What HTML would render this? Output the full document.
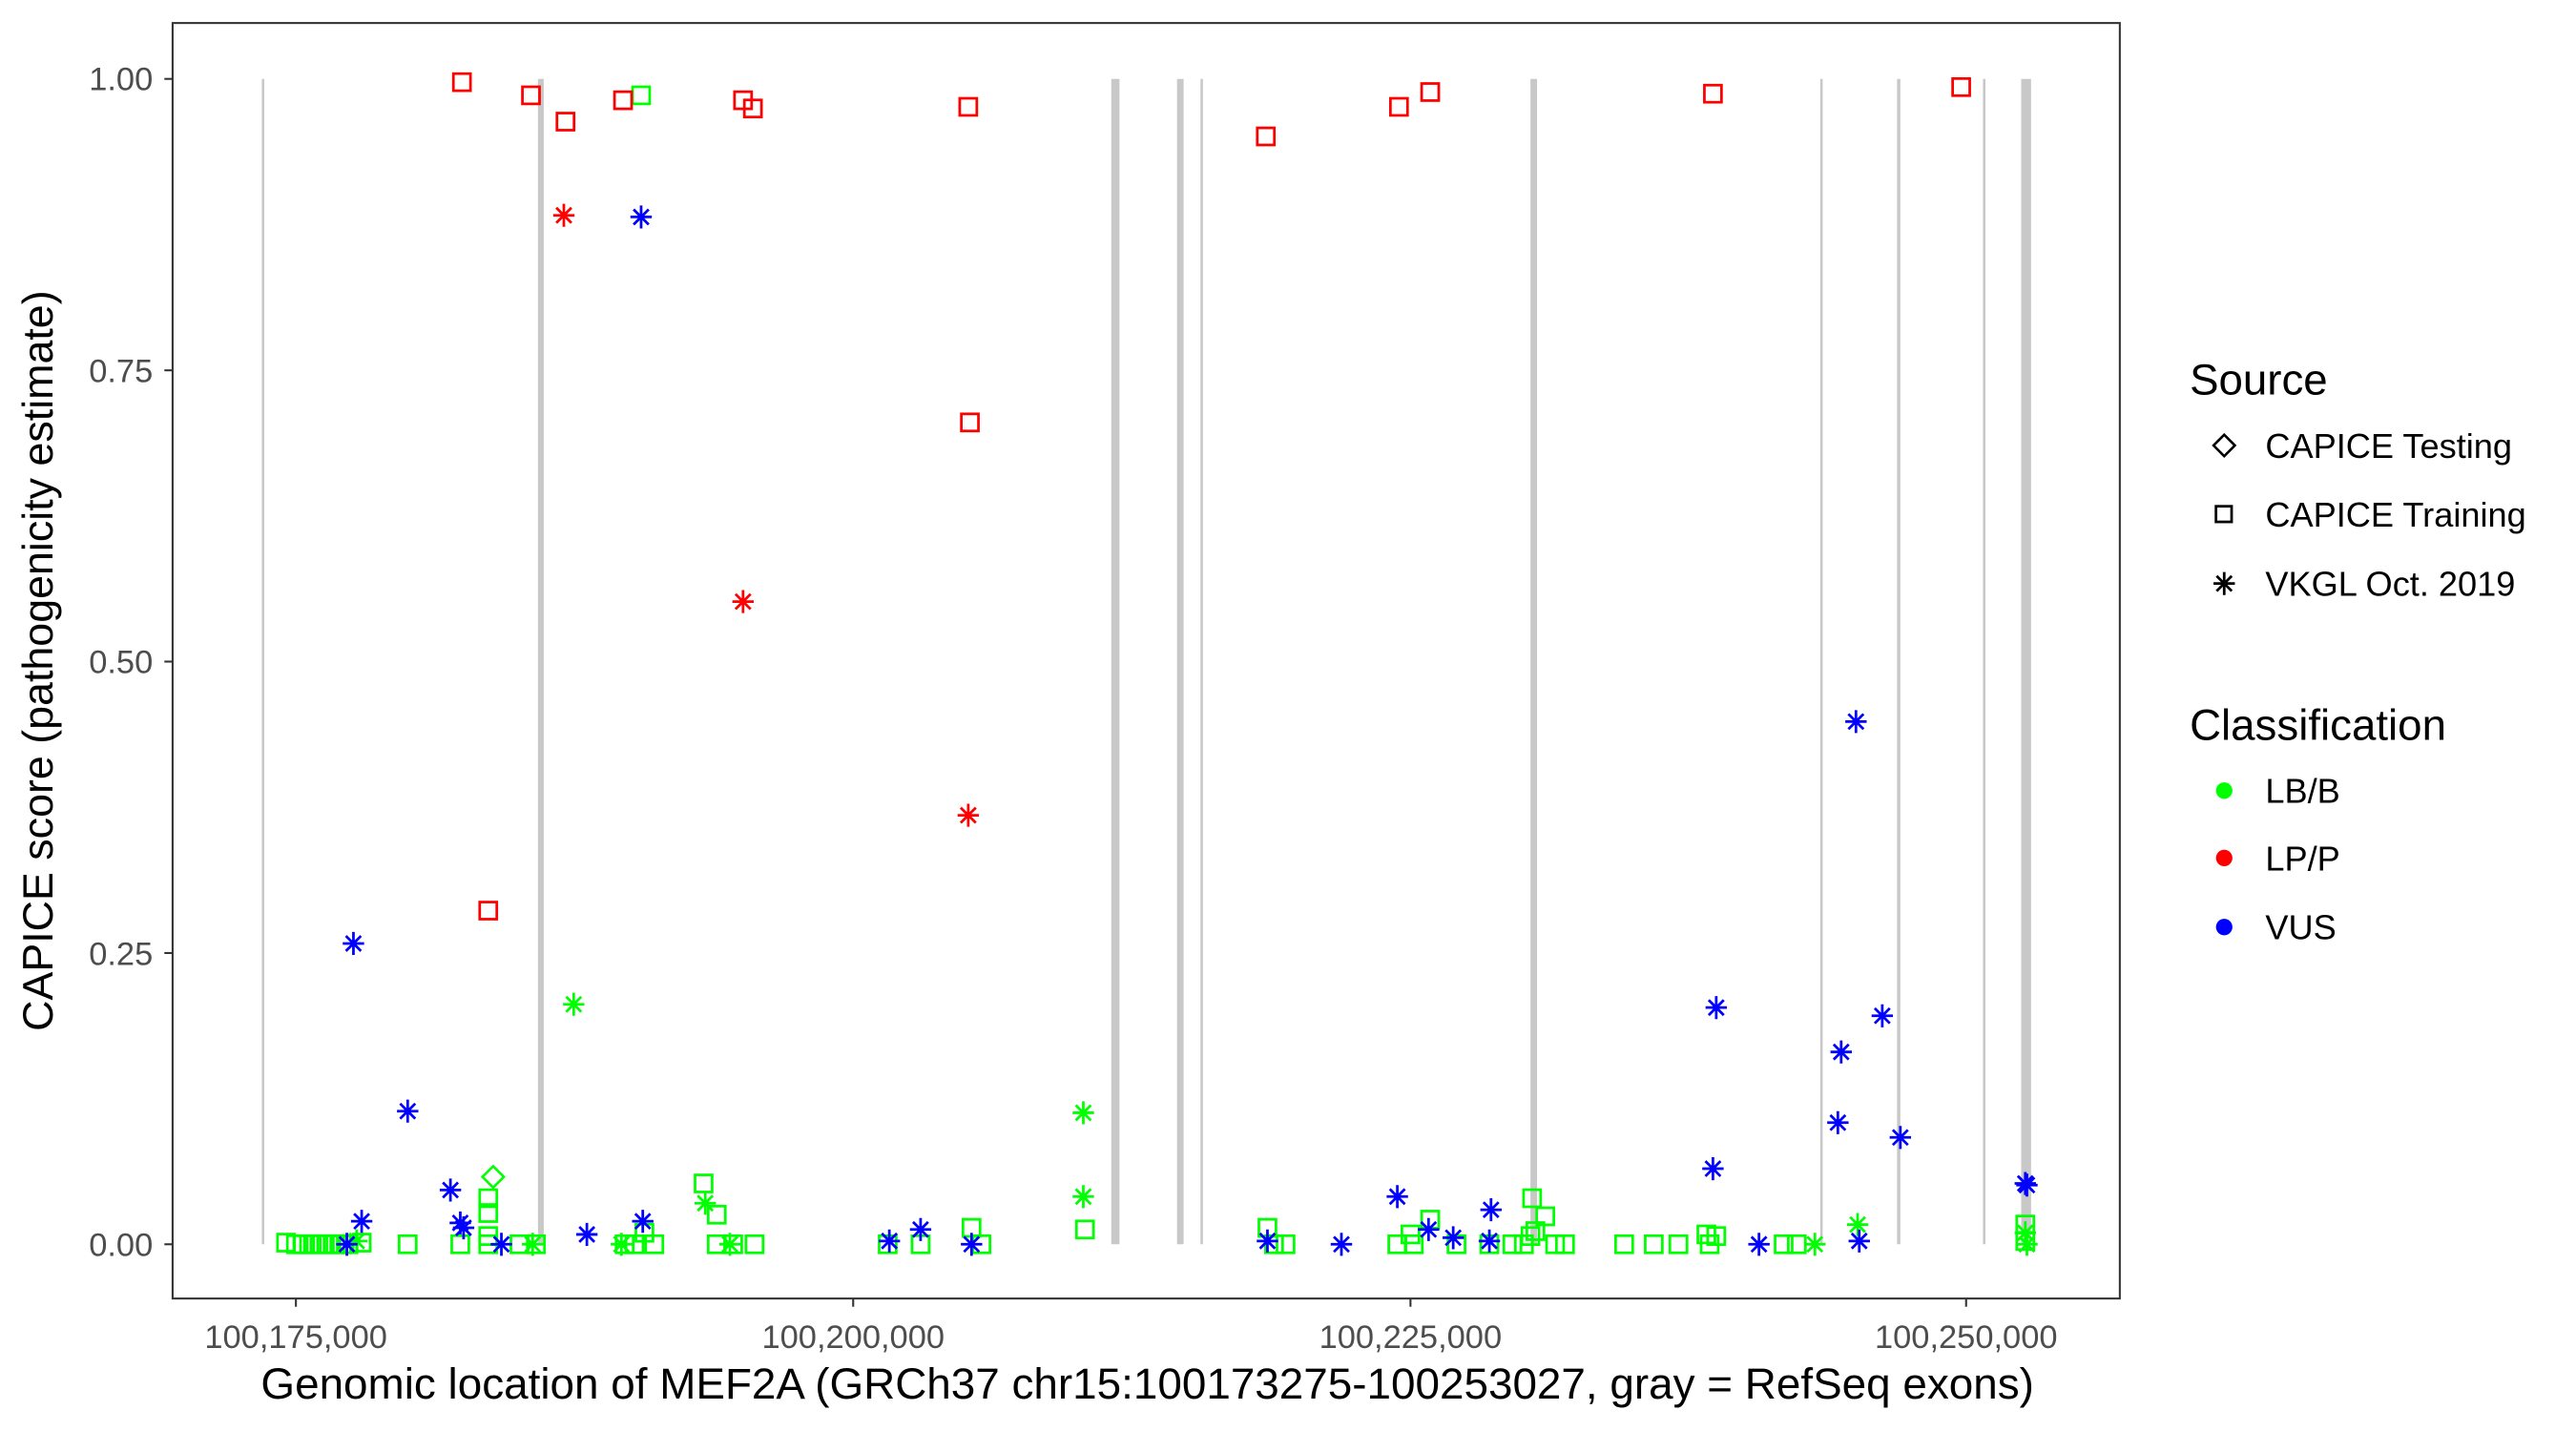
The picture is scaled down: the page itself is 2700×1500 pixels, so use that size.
<!DOCTYPE html>
<html><head><meta charset="utf-8"><style>html,body{margin:0;padding:0;background:#fff}svg{display:block}</style></head>
<body>
<svg width="2700" height="1500" viewBox="0 0 1567 870.6" preserveAspectRatio="none" xmlns="http://www.w3.org/2000/svg" font-family="Liberation Sans, sans-serif">
<defs>
<rect id="sq" x="-5.2" y="-5.2" width="10.4" height="10.4" fill="none" stroke-width="1.6"/>
<path id="as" d="M0,-7V7M-6.5,0H6.5M-4.6,-4.6L4.6,4.6M-4.6,4.6L4.6,-4.6" fill="none" stroke-width="1.6"/>
<path id="di" d="M0,-6.5L6.5,0L0,6.5L-6.5,0Z" fill="none" stroke-width="1.5"/>
</defs>
<rect x="0" y="0" width="1567" height="870.6" fill="#fff"/>
<g stroke="#c8c8c8">
<line x1="160" y1="48" x2="160" y2="757" stroke-width="1.5"/>
<line x1="329" y1="48" x2="329" y2="757" stroke-width="3.5"/>
<line x1="678.5" y1="48" x2="678.5" y2="757" stroke-width="5"/>
<line x1="718" y1="48" x2="718" y2="757" stroke-width="4"/>
<line x1="731" y1="48" x2="731" y2="757" stroke-width="1.5"/>
<line x1="933" y1="48" x2="933" y2="757" stroke-width="4"/>
<line x1="1108" y1="48" x2="1108" y2="757" stroke-width="1.5"/>
<line x1="1155" y1="48" x2="1155" y2="757" stroke-width="2"/>
<line x1="1207" y1="48" x2="1207" y2="757" stroke-width="1.5"/>
<line x1="1232.5" y1="48" x2="1232.5" y2="757" stroke-width="6"/>
</g>
<g stroke="#00ff00">
<use href="#sq" x="174" y="756"/><use href="#sq" x="180" y="757"/><use href="#sq" x="184" y="757"/><use href="#sq" x="188" y="757"/><use href="#sq" x="192" y="757"/><use href="#sq" x="196" y="757"/><use href="#sq" x="200" y="757"/><use href="#sq" x="204" y="757"/><use href="#sq" x="208" y="757"/><use href="#sq" x="212" y="757"/><use href="#sq" x="220" y="756"/><use href="#sq" x="248" y="757"/><use href="#sq" x="280" y="757"/><use href="#sq" x="297" y="729"/><use href="#sq" x="297" y="738"/><use href="#sq" x="297" y="752"/><use href="#sq" x="297" y="757"/><use href="#sq" x="316" y="757"/><use href="#sq" x="326" y="757"/><use href="#sq" x="380" y="757"/><use href="#sq" x="386" y="757"/><use href="#sq" x="392" y="750"/><use href="#sq" x="398" y="757"/><use href="#sq" x="428" y="720"/><use href="#sq" x="436" y="739"/><use href="#sq" x="436" y="757"/><use href="#sq" x="446" y="757"/><use href="#sq" x="459" y="757"/><use href="#sq" x="540" y="757"/><use href="#sq" x="560" y="757"/><use href="#sq" x="591" y="747"/><use href="#sq" x="597" y="757"/><use href="#sq" x="660" y="748"/><use href="#sq" x="771" y="747"/><use href="#sq" x="775" y="757"/><use href="#sq" x="782" y="757"/><use href="#sq" x="850" y="757"/><use href="#sq" x="858" y="751"/><use href="#sq" x="860" y="757"/><use href="#sq" x="870" y="742"/><use href="#sq" x="886" y="757"/><use href="#sq" x="906" y="757"/><use href="#sq" x="920" y="757"/><use href="#sq" x="927" y="757"/><use href="#sq" x="931" y="752"/><use href="#sq" x="932" y="729"/><use href="#sq" x="934" y="749"/><use href="#sq" x="940" y="740"/><use href="#sq" x="946" y="757"/><use href="#sq" x="952" y="757"/><use href="#sq" x="988" y="757"/><use href="#sq" x="1006" y="757"/><use href="#sq" x="1021" y="757"/><use href="#sq" x="1038" y="751"/><use href="#sq" x="1044" y="752"/><use href="#sq" x="1040" y="757"/><use href="#sq" x="1085" y="757"/><use href="#sq" x="1093" y="757"/><use href="#sq" x="1232" y="745"/><use href="#sq" x="1232" y="755"/>
<use href="#sq" x="390" y="58"/>
</g>
<g stroke="#ff0000">
<use href="#sq" x="281" y="50"/><use href="#sq" x="323" y="58"/><use href="#sq" x="344" y="74"/><use href="#sq" x="379" y="61"/><use href="#sq" x="452" y="61"/><use href="#sq" x="458" y="66"/><use href="#sq" x="589" y="65"/><use href="#sq" x="770" y="83"/><use href="#sq" x="851" y="65"/><use href="#sq" x="870" y="56"/><use href="#sq" x="1042" y="57"/><use href="#sq" x="1193" y="53"/><use href="#sq" x="297" y="554"/><use href="#sq" x="590" y="257"/>
</g>
<use href="#di" x="300" y="716" stroke="#00ff00"/>
<g stroke="#00ff00">
<use href="#as" x="349" y="611"/><use href="#as" x="659" y="677"/><use href="#as" x="659" y="728"/><use href="#as" x="429" y="732"/><use href="#as" x="1130" y="745"/><use href="#as" x="378" y="757"/><use href="#as" x="324" y="757"/><use href="#as" x="444" y="757"/><use href="#as" x="1104" y="757"/><use href="#as" x="1232" y="750"/><use href="#as" x="1233" y="757"/><use href="#as" x="217" y="755"/>
</g>
<g stroke="#ff0000">
<use href="#as" x="343" y="131"/><use href="#as" x="452" y="366"/><use href="#as" x="589" y="496"/>
</g>
<g stroke="#0000ff">
<use href="#as" x="390" y="132"/><use href="#as" x="215" y="574"/><use href="#as" x="248" y="676"/><use href="#as" x="274" y="724"/><use href="#as" x="220" y="743"/><use href="#as" x="280" y="744"/><use href="#as" x="282" y="747"/><use href="#as" x="305" y="757"/><use href="#as" x="357" y="751"/><use href="#as" x="391" y="743"/><use href="#as" x="211" y="757"/><use href="#as" x="541" y="755"/><use href="#as" x="560" y="748"/><use href="#as" x="591" y="757"/><use href="#as" x="771" y="755"/><use href="#as" x="816" y="757"/><use href="#as" x="850" y="728"/><use href="#as" x="869" y="748"/><use href="#as" x="884" y="753"/><use href="#as" x="907" y="736"/><use href="#as" x="906" y="755"/><use href="#as" x="1044" y="613"/><use href="#as" x="1042" y="711"/><use href="#as" x="1070" y="757"/><use href="#as" x="1129" y="439"/><use href="#as" x="1145" y="618"/><use href="#as" x="1120" y="640"/><use href="#as" x="1118" y="683"/><use href="#as" x="1156" y="692"/><use href="#as" x="1131" y="755"/><use href="#as" x="1232" y="720"/><use href="#as" x="1233" y="721"/>
</g>
<rect x="105" y="14" width="1184.5" height="776" fill="none" stroke="#333" stroke-width="1.2"/>
<g stroke="#333" stroke-width="1.2">
<line x1="100" y1="48" x2="105" y2="48"/><line x1="100" y1="225.3" x2="105" y2="225.3"/><line x1="100" y1="402.5" x2="105" y2="402.5"/><line x1="100" y1="579.8" x2="105" y2="579.8"/><line x1="100" y1="757" x2="105" y2="757"/>
<line x1="180" y1="790" x2="180" y2="795"/><line x1="519" y1="790" x2="519" y2="795"/><line x1="858" y1="790" x2="858" y2="795"/><line x1="1196" y1="790" x2="1196" y2="795"/>
</g>
<g fill="#4d4d4d" font-size="20" text-anchor="end">
<text x="93" y="55">1.00</text><text x="93" y="232.5">0.75</text><text x="93" y="409.5">0.50</text><text x="93" y="587">0.25</text><text x="93" y="764">0.00</text>
</g>
<g fill="#4d4d4d" font-size="20" text-anchor="middle">
<text x="180" y="820">100,175,000</text><text x="519" y="820">100,200,000</text><text x="858" y="820">100,225,000</text><text x="1196" y="820">100,250,000</text>
</g>
<text x="698" y="851" font-size="26.6" text-anchor="middle" fill="#000">Genomic location of MEF2A (GRCh37 chr15:100173275-100253027, gray = RefSeq exons)</text>
<text transform="translate(32,402) rotate(-90)" font-size="26" text-anchor="middle" fill="#000">CAPICE score (pathogenicity estimate)</text>
<text x="1332" y="240" font-size="26.5" fill="#000">Source</text>
<use href="#di" x="1353" y="271" stroke="#000"/>
<rect x="1348" y="308" width="9.5" height="9.5" fill="none" stroke="#000" stroke-width="1.6"/>
<use href="#as" x="1353" y="355" stroke="#000"/>
<g font-size="21" fill="#000">
<text x="1378" y="278.5">CAPICE Testing</text><text x="1378" y="320.5">CAPICE Training</text><text x="1378" y="362.5">VKGL Oct. 2019</text>
</g>
<text x="1332" y="450" font-size="26.5" fill="#000">Classification</text>
<circle cx="1353" cy="481" r="5" fill="#00ff00"/><circle cx="1353" cy="522" r="5" fill="#ff0000"/><circle cx="1353" cy="564" r="5" fill="#0000ff"/>
<g font-size="21" fill="#000">
<text x="1378" y="488.5">LB/B</text><text x="1378" y="529.5">LP/P</text><text x="1378" y="571.5">VUS</text>
</g>
</svg>
</body></html>
